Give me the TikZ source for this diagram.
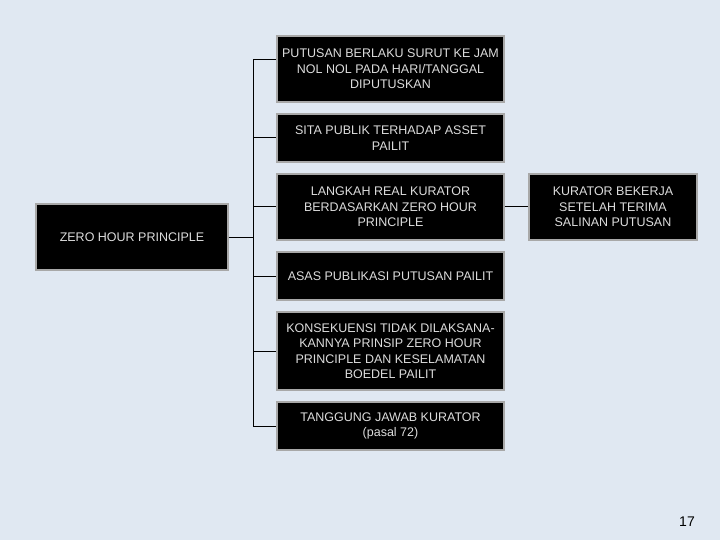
\documentclass[tikz,border=0pt]{standalone}
\usepackage{fontspec}
\setmainfont{Liberation Sans}
\definecolor{slidebg}{RGB}{224,232,242}
\definecolor{boxline}{RGB}{168,168,168}
\definecolor{boxtext}{RGB}{220,220,220}

\begin{document}
\begin{tikzpicture}[x=1pt, y=-1pt, line width=1pt,
    box/.style={draw=boxline, line width=1.2pt, fill=black, text=boxtext,
        inner sep=2pt, align=center,
        font=\fontsize{12.5}{15.5}\selectfont}]

% ============================
% Slide background
% ============================
\fill[slidebg] (0,0) rectangle (720,540);
\useasboundingbox (0,0) rectangle (720,540);

% ============================
% Boxes (right column)
% ============================
\node[box, minimum width=227pt, minimum height=66pt] (putusan)  at (390.5,69)
    {PUTUSAN BERLAKU SURUT KE JAM\\NOL NOL PADA HARI/TANGGAL\\DIPUTUSKAN};
\node[box, minimum width=227pt, minimum height=48pt] (sita)     at (390.5,138)
    {SITA PUBLIK TERHADAP ASSET\\PAILIT};
\node[box, minimum width=227pt, minimum height=66pt] (langkah)  at (390.5,207)
    {LANGKAH REAL KURATOR\\BERDASARKAN ZERO HOUR\\PRINCIPLE};
\node[box, minimum width=227pt, minimum height=48pt] (asas)     at (390.5,276)
    {ASAS PUBLIKASI PUTUSAN PAILIT};
\node[box, minimum width=227pt, minimum height=78pt] (konsek)   at (390.5,351)
    {KONSEKUENSI TIDAK DILAKSANA-\\KANNYA PRINSIP ZERO HOUR\\PRINCIPLE DAN KESELAMATAN\\BOEDEL PAILIT};
\node[box, minimum width=227pt, minimum height=48pt] (tanggung) at (390.5,426)
    {TANGGUNG JAWAB KURATOR\\(pasal 72)};

% Root and far right box
\node[box, minimum width=192pt, minimum height=66pt] (zero)    at (132,237)
    {ZERO HOUR PRINCIPLE};
\node[box, minimum width=168pt, minimum height=66pt] (kurator) at (613,207)
    {KURATOR BEKERJA\\SETELAH TERIMA\\SALINAN PUTUSAN};

% ============================
% Trunk line
% ============================
\coordinate (tTop) at (253,60);
\coordinate (tBot) at (253,426);
\draw (tTop) -- (tBot);

% Root -> trunk
\draw (zero.east) -- (zero.east -| tTop);

% Trunk -> boxes
\draw (tTop) -- (tTop -| putusan.west);
\foreach \b in {sita,langkah,asas,konsek,tanggung}
    \draw (\b.west -| tTop) -- (\b.west);

% Langkah -> kurator
\draw (langkah.east) -- (kurator.west);

% Page number
\node[font=\fontsize{14}{16}\selectfont] (page) at (687,522) {17};

\end{tikzpicture}
\end{document}
